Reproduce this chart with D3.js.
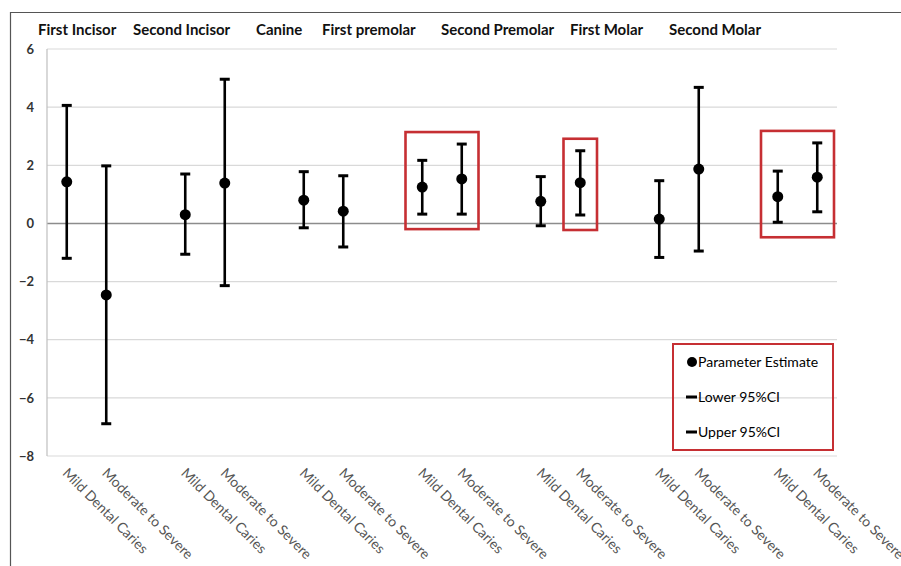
<!DOCTYPE html>
<html><head><meta charset="utf-8">
<script src="https://cdn.jsdelivr.net/npm/d3@7"></script>
<style>
body{margin:0;background:#fff;}
svg{display:block;font-family:Lato,"Noto Sans",sans-serif;}
</style></head>
<body><svg id="c" width="901" height="566"></svg>
<script>
// ---- data ----
const groups = ["First Incisor","Second Incisor","Canine","First premolar","Second Premolar","First Molar","Second Molar"];
const severities = ["Mild Dental Caries","Moderate to Severe"];
const estimate = [[1.43,-2.46],[0.30,1.39],[0.80,0.42],[1.25,1.53],[0.76,1.40],[0.15,1.87],[0.92,1.59]];
const lower95  = [[-1.20,-6.89],[-1.06,-2.14],[-0.15,-0.81],[0.32,0.32],[-0.08,0.29],[-1.17,-0.95],[0.04,0.40]];
const upper95  = [[4.06,1.98],[1.70,4.96],[1.78,1.64],[2.17,2.73],[1.61,2.50],[1.47,4.68],[1.80,2.77]];
const yTicks = [6,4,2,0,-2,-4,-6,-8];
const highlightBoxes = [[[3,0],[3,1]],[[4,1]],[[6,0],[6,1]]];
const legendItems = ["Parameter Estimate","Lower 95%CI","Upper 95%CI"];

// ---- layout ----
const svg = d3.select("#c");
const M = {left:47, right:837, top:49, bottom:456};
const slots = [];
groups.forEach((g,gi)=>{
  severities.forEach((s,si)=>slots.push(gi+"|"+si));
  if(gi<groups.length-1) slots.push(gi+"|gap");
});
const x = d3.scaleBand().domain(slots).range([M.left,M.right]).padding(0);
const y = d3.scaleLinear().domain([-8,6]).range([M.bottom,M.top]);
const cx = (g,s)=>x(g+"|"+s)+x.bandwidth()/2;

// outer frame
svg.append("path").attr("d",`M10.5,566 V12.5 H901`).attr("fill","none").attr("stroke","#555").attr("stroke-width",1.2);

// gridlines
svg.append("g").selectAll("line").data(yTicks).join("line")
  .attr("x1",M.left).attr("x2",M.right)
  .attr("y1",d=>y(d)).attr("y2",d=>y(d))
  .attr("stroke",d=>d===0?"#8c8c8c":"#d9d9d9")
  .attr("stroke-width",d=>d===0?1.6:1.2);
// left axis line
svg.append("line").attr("x1",M.left).attr("x2",M.left).attr("y1",M.top).attr("y2",M.bottom)
  .attr("stroke","#bfbfbf").attr("stroke-width",1.2);

// y axis labels
const yAxis = d3.axisLeft(y).tickValues(yTicks).tickSize(0).tickPadding(0).tickFormat(d3.format("d"));
const ya = svg.append("g").attr("transform",`translate(34,0)`).call(yAxis);
ya.select(".domain").remove();
ya.selectAll("text").attr("font-size",13).attr("font-weight","bold").attr("fill","#333").attr("font-family","Lato,sans-serif");

// headers (one typed title line)
const headerLeft = [38,133,256,322,441,570,669];
svg.append("g").selectAll("text").data(groups).join("text")
  .attr("x",(d,i)=>headerLeft[i]).attr("y",35)
  .attr("font-size",15).attr("font-weight","bold").attr("fill","#111")
  .text(d=>d);

// error bars
const pts = [];
groups.forEach((g,gi)=>severities.forEach((s,si)=>pts.push({g:gi,s:si,est:estimate[gi][si],lo:lower95[gi][si],hi:upper95[gi][si]})));
const eb = svg.append("g").selectAll("g").data(pts).join("g");
eb.append("line").attr("x1",d=>cx(d.g,d.s)).attr("x2",d=>cx(d.g,d.s))
  .attr("y1",d=>y(d.lo)).attr("y2",d=>y(d.hi)).attr("stroke","#000").attr("stroke-width",2.6);
eb.append("line").attr("x1",d=>cx(d.g,d.s)-5).attr("x2",d=>cx(d.g,d.s)+5)
  .attr("y1",d=>y(d.hi)).attr("y2",d=>y(d.hi)).attr("stroke","#000").attr("stroke-width",3);
eb.append("line").attr("x1",d=>cx(d.g,d.s)-5).attr("x2",d=>cx(d.g,d.s)+5)
  .attr("y1",d=>y(d.lo)).attr("y2",d=>y(d.lo)).attr("stroke","#000").attr("stroke-width",3);
eb.append("circle").attr("cx",d=>cx(d.g,d.s)).attr("cy",d=>y(d.est)).attr("r",5.5).attr("fill","#000");

// highlight boxes
svg.append("g").selectAll("rect").data(highlightBoxes).join("rect")
  .attr("x",b=>d3.min(b,([g,s])=>x(g+"|"+s))+3)
  .attr("width",b=>d3.max(b,([g,s])=>x(g+"|"+s))+x.bandwidth()-3-(d3.min(b,([g,s])=>x(g+"|"+s))+3))
  .attr("y",b=>d3.min(b,([g,s])=>y(upper95[g][s]))-12)
  .attr("height",b=>d3.max(b,([g,s])=>y(lower95[g][s]))+15-(d3.min(b,([g,s])=>y(upper95[g][s]))-12))
  .attr("fill","none").attr("stroke","#c62f33").attr("stroke-width",2.6);

// x labels
svg.append("g").selectAll("text").data(pts).join("text")
  .attr("transform",d=>`translate(${cx(d.g,d.s)-5},${474}) rotate(45)`)
  .attr("font-size",14).attr("fill","#555")
  .text(d=>severities[d.s]);

// legend
const L = {x:673,y:344,w:160,h:106};
svg.append("rect").attr("x",L.x).attr("y",L.y).attr("width",L.w).attr("height",L.h)
  .attr("fill","none").attr("stroke","#c62f33").attr("stroke-width",2);
const li = svg.append("g").selectAll("g").data(legendItems).join("g")
  .attr("transform",(d,i)=>`translate(${L.x},${L.y+18+i*35})`);
li.filter((d,i)=>i===0).append("circle").attr("cx",19).attr("cy",0).attr("r",5).attr("fill","#000");
li.filter((d,i)=>i>0).append("line").attr("x1",13).attr("x2",24).attr("y1",0).attr("y2",0).attr("stroke","#000").attr("stroke-width",3);
li.append("text").attr("x",25).attr("y",0).attr("dy","0.35em").attr("font-size",14).attr("fill","#000").text(d=>d);
</script></body></html>
